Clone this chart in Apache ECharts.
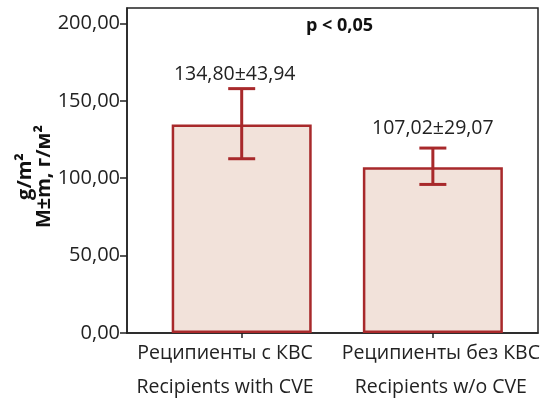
<!DOCTYPE html>
<html><head><meta charset="utf-8">
<style>html,body{margin:0;padding:0;background:#fff}#c{width:541px;height:398px}</style>
<script src="https://cdn.jsdelivr.net/npm/echarts@6/dist/echarts.min.js"></script>
</head><body><div id="c"></div>
<script>
const categoriesRu = ['Реципиенты с КВС', 'Реципиенты без КВС'];
const categoriesEn = ['Recipients with CVE', 'Recipients w/o CVE'];
const means = [134.80, 107.02];
const errLow = [112.6, 96.0];
const errHigh = [157.9, 119.5];
const valueLabels = ['134,80±43,94', '107,02±29,07'];
const yTicks = [0, 50, 100, 150, 200];
const positions = [1, 2];
const labelPositions = [0.913, 2.042];

const red = '#a8292b';
const fill = '#f2e2da';
const font = 'Open Sans';

const chart = echarts.init(document.getElementById('c'), null, {renderer: 'canvas'});
chart.setOption({
  animation: false,
  grid: {left: 127, right: 3, top: 8, bottom: 65, show: true, borderColor: '#222', borderWidth: 1.5,
    backgroundColor: 'transparent', containLabel: false, outerBoundsMode: 'none'},
  xAxis: {
    type: 'value', min: 0.4, max: 2.55,
    splitLine: {show: false},
    axisLine: {show: true, onZero: false, lineStyle: {color: '#222', width: 1.5}},
    axisTick: {show: true, length: 5, customValues: positions, lineStyle: {color: '#222', width: 1.5}},
    axisLabel: {
      customValues: labelPositions, margin: 3, hideOverlap: false,
      formatter: function (v) {
        const i = v < 1.5 ? 0 : 1;
        return categoriesRu[i] + '\n' + categoriesEn[i];
      },
      fontFamily: font, fontSize: 19.5, color: '#222', lineHeight: 34
    }
  },
  yAxis: {
    type: 'value', min: 0, max: 210,
    name: 'g/m²\nM±m, г/м²', nameLocation: 'middle', nameGap: 73, nameMoveOverlap: false,
    nameTextStyle: {fontFamily: font, fontSize: 20, fontWeight: 'bold', color: '#111', lineHeight: 19, padding: [0, 12, 0, 0]},
    splitLine: {show: false},
    axisLine: {show: true, lineStyle: {color: '#222', width: 1.5}},
    axisTick: {show: true, length: 7, customValues: yTicks, lineStyle: {color: '#222', width: 1.5}},
    axisLabel: {customValues: yTicks, fontFamily: font, fontSize: 20, color: '#222', margin: 7,
      formatter: v => v.toFixed(2).replace('.', ',')}
  },
  graphic: [{type: 'text', left: 306, top: 17, style: {text: 'p < 0,05', fontFamily: font, fontSize: 18, fontWeight: 'bold', fill: '#111'}}],
  series: [{
    type: 'bar', barWidth: 140,
    data: positions.map((p, i) => [p, means[i]]),
    itemStyle: {color: fill, borderColor: red, borderWidth: 2.5}
  }, {
    type: 'custom',
    data: positions.map((p, i) => [p, errLow[i], errHigh[i], i]),
    renderItem: function (params, api) {
      const x = api.value(0);
      const lo = api.coord([x, api.value(1)]);
      const hi = api.coord([x, api.value(2)]);
      const i = api.value(3);
      const hw = 13.5;
      const st = {stroke: red, lineWidth: 3};
      return {type: 'group', children: [
        {type: 'line', shape: {x1: lo[0], y1: lo[1], x2: hi[0], y2: hi[1]}, style: st},
        {type: 'line', shape: {x1: lo[0] - hw, y1: lo[1], x2: lo[0] + hw, y2: lo[1]}, style: st},
        {type: 'line', shape: {x1: hi[0] - hw, y1: hi[1], x2: hi[0] + hw, y2: hi[1]}, style: st},
        {type: 'text', x: hi[0] - (i === 0 ? 7 : 0), y: hi[1] - (i === 0 ? 14 : 20),
          style: {text: valueLabels[i], fontFamily: font, fontSize: 19.5, fill: '#222', align: 'center', verticalAlign: 'middle'}}
      ]};
    },
    z: 5
  }]
});
</script></body></html>
